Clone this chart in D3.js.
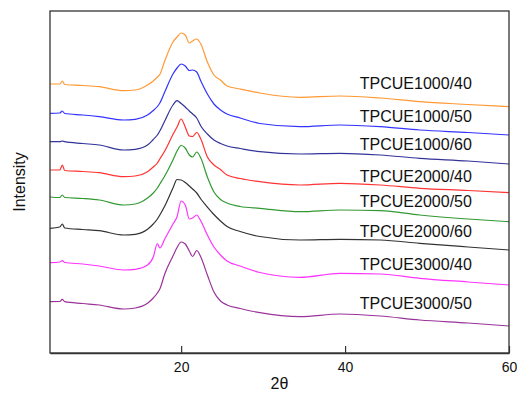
<!DOCTYPE html>
<html>
<head>
<meta charset="utf-8">
<script src="https://cdn.jsdelivr.net/npm/d3@7"></script>
<style>
  body { margin: 0; background: #fff; }
  svg { display: block; font-family: "Liberation Sans", Arial, sans-serif; }
</style>
</head>
<body>
<div id="xrdChart"></div>
<script>
// 2θ sampling points (deg)
const twoTheta = [4, 5.2, 5.5, 5.8, 8, 10, 13, 14.4, 15.9, 16.6, 17.1, 17.4, 18, 19, 19.5, 20, 20.5,
  21, 21.4, 21.9, 22.4, 23.2, 24, 24.8, 25.6, 27.2, 29.6, 34.5, 39.4, 44.3, 49.1, 55, 60];

const sampleNames = ["TPCUE1000/40", "TPCUE1000/50", "TPCUE1000/60", "TPCUE2000/40",
  "TPCUE2000/50", "TPCUE2000/60", "TPCUE3000/40", "TPCUE3000/50"];

const sampleColors = ["#ff9933", "#3333ff", "#333399", "#ff3333", "#339933", "#333333", "#ff33ff", "#993399"];

// stacked intensity (a.u.), one array per sample
const i1000_40 = [269, 269, 272, 268.5, 267.5, 266.3, 262.3, 263, 268, 272, 276, 278.5, 292, 311, 316, 320, 318,
  310, 312, 314, 309, 291, 278, 273, 267, 264, 260, 255.7, 257, 255, 251.3, 248.5, 246.3];
const i1000_50 = [239.7, 240, 242, 239.5, 238, 236.3, 233, 233.7, 238, 242.5, 246.5, 250, 261, 279, 285, 289, 287,
  282.5, 283, 281, 272, 259, 249, 243, 239, 235, 229.5, 226.3, 228, 226.3, 223, 220.5, 218];
const i1000_60 = [211.3, 211.3, 212, 211.3, 209.5, 208, 203, 203.7, 208, 213.5, 218, 222, 232, 248, 252.3, 249.5, 246,
  242, 239, 235, 227, 219, 213, 209.5, 207, 204.5, 201.3, 199, 199.7, 198, 194.7, 192, 189];
const i2000_40 = [183, 183, 188, 182.5, 181.5, 180.3, 176.3, 177, 181.3, 186, 190, 194, 202, 218.5, 226, 234, 226,
  217, 216.5, 220.5, 214, 196, 188, 183.5, 178, 174.5, 171.3, 168, 169.7, 168, 164.7, 162.5, 160.3];
const i2000_50 = [156, 155.5, 158, 155.5, 154.5, 153, 148, 149, 155, 160, 165, 169, 177, 193, 202, 207.5, 205,
  198, 196, 201, 195, 176, 161, 153.5, 150, 146.5, 144.7, 141.3, 143, 142.3, 138, 134, 131.3];
const i2000_60 = [124.7, 126, 129, 125, 123.5, 122.3, 118, 118.7, 123.7, 129, 134, 138, 147, 165, 173.5, 173, 170.5,
  167, 164, 160, 154, 146, 138.5, 132, 126.5, 121.5, 116.5, 113, 113.7, 113, 109.7, 106, 103];
const i3000_40 = [90.3, 91, 92.3, 90.5, 89, 87, 83, 83.7, 88, 96, 109.5, 105, 114, 129, 136.3, 152, 148,
  134, 135, 138, 132, 118, 106, 98, 92, 87, 80.5, 75.7, 79.7, 79, 74.7, 71, 68];
const i3000_50 = [51.3, 51.5, 53.7, 51.3, 49.5, 48, 44, 45, 49.7, 55, 60, 64, 79, 97, 105.5, 111, 109,
  102, 96.5, 102.5, 96, 78, 61, 52, 48, 44.5, 40.3, 36.3, 39, 37, 33, 30, 27];

const intensities = [i1000_40, i1000_50, i1000_60, i2000_40, i2000_50, i2000_60, i3000_40, i3000_50];

// label anchor (2θ, intensity)
const labelTheta = 41.8;
const labelLevel = [264, 231, 203, 171, 146, 116.5, 83, 44];

const xTicks = [20, 40, 60];

const width = 517, height = 394;
const margin = {left: 50, top: 11, right: 8, bottom: 41};
const innerW = width - margin.left - margin.right;
const innerH = height - margin.top - margin.bottom;

const svg = d3.select("#xrdChart").append("svg")
  .attr("width", width)
  .attr("height", height);

const g = svg.append("g")
  .attr("transform", `translate(${margin.left},${margin.top})`);

const x = d3.scaleLinear().domain([4, 60]).range([0, innerW]);
const y = d3.scaleLinear().domain([0, innerH]).range([innerH, 0]);

const line = d3.line()
  .x((d, i) => x(twoTheta[i]))
  .y(d => y(d))
  .curve(d3.curveMonotoneX);

g.selectAll(".curve")
  .data(intensities).enter()
  .append("path")
  .attr("class", "curve")
  .attr("d", d => line(d))
  .attr("fill", "none")
  .attr("stroke", (d, i) => sampleColors[i])
  .attr("stroke-width", 1.2);

g.selectAll(".label")
  .data(sampleNames).enter()
  .append("text")
  .attr("class", "label")
  .attr("x", x(labelTheta))
  .attr("y", (d, i) => y(labelLevel[i]))
  .attr("font-size", 16)
  .attr("fill", "#111")
  .text(d => d);

// frame
g.append("rect")
  .attr("width", innerW)
  .attr("height", innerH)
  .attr("fill", "none")
  .attr("stroke", "#333")
  .attr("stroke-width", 1.3);

const xAxis = d3.axisBottom(x)
  .tickValues(xTicks)
  .tickSizeInner(-7)
  .tickSizeOuter(0)
  .tickPadding(9);

const ax = g.append("g")
  .attr("transform", `translate(0,${innerH})`)
  .call(xAxis);
ax.select(".domain").attr("stroke", "#333").attr("stroke-width", 1.3);
ax.selectAll(".tick line").attr("stroke", "#333").attr("stroke-width", 1.2);
ax.selectAll(".tick text")
  .attr("font-size", 14)
  .attr("font-family", "Liberation Sans, Arial, sans-serif")
  .attr("fill", "#111");

svg.append("text")
  .attr("x", margin.left + x(32))
  .attr("y", 389)
  .attr("text-anchor", "middle")
  .attr("font-size", 16)
  .attr("fill", "#111")
  .text("2θ");

svg.append("text")
  .attr("transform", `translate(25,${margin.top + innerH / 2}) rotate(-90)`)
  .attr("text-anchor", "middle")
  .attr("font-size", 16)
  .attr("fill", "#111")
  .text("Intensity");
</script>
</body>
</html>
